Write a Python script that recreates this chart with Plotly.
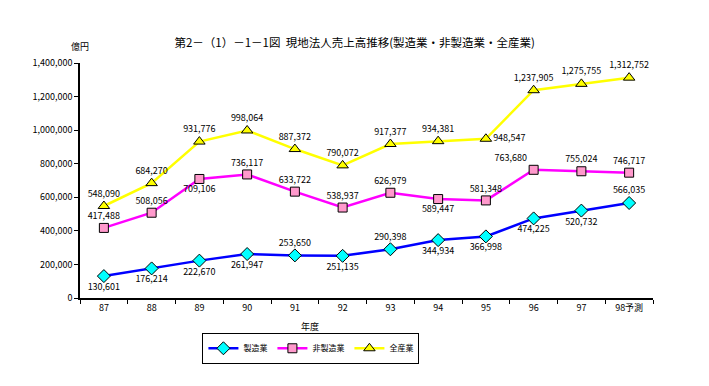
import plotly.graph_objects as go

years = ["87", "88", "89", "90", "91", "92", "93", "94", "95", "96", "97", "98予測"]
manufacturing = [130601, 176214, 222670, 261947, 253650, 251135, 290398, 344934, 366998, 474225, 520732, 566035]
non_manufacturing = [417488, 508056, 709106, 736117, 633722, 538937, 626979, 589447, 581348, 763680, 755024, 746717]
all_industries = [548090, 684270, 931776, 998064, 887372, 790072, 917377, 934381, 948547, 1237905, 1275755, 1312752]
y_ticks = [0, 200000, 400000, 600000, 800000, 1000000, 1200000, 1400000]

FONT = "Noto Sans CJK JP, Arial, sans-serif"

def fmt(v):
    return f"{v:,}"

pos_m = ["bottom center"] * 12
pos_m[4] = "top center"
pos_m[6] = "top center"
pos_m[11] = "top center"

pos_n = ["top center"] * 12
pos_n[2] = "bottom center"
pos_n[7] = "bottom center"
pos_n[9] = "top left"

pos_a = ["top center"] * 12
pos_a[8] = "middle right"

fig = go.Figure()
fig.add_trace(go.Scatter(
    x=years, y=manufacturing, name="製造業", mode="lines+markers+text",
    line=dict(color="#0000FF", width=2.5),
    marker=dict(symbol="diamond", size=10, color="#00FFFF", line=dict(color="black", width=1)),
    text=[fmt(v) for v in manufacturing], textposition=pos_m,
    textfont=dict(size=9, color="black", family=FONT), cliponaxis=False,
))
fig.add_trace(go.Scatter(
    x=years, y=non_manufacturing, name="非製造業", mode="lines+markers+text",
    line=dict(color="#FF00FF", width=2.5),
    marker=dict(symbol="square", size=9, color="#FF99CC", line=dict(color="black", width=1)),
    text=[fmt(v) for v in non_manufacturing], textposition=pos_n,
    textfont=dict(size=9, color="black", family=FONT), cliponaxis=False,
))
fig.add_trace(go.Scatter(
    x=years, y=all_industries, name="全産業", mode="lines+markers+text",
    line=dict(color="#FFFF00", width=2.5),
    marker=dict(symbol="triangle-up", size=10, color="#FFFF00", line=dict(color="black", width=1)),
    text=[fmt(v) for v in all_industries], textposition=pos_a,
    textfont=dict(size=9, color="black", family=FONT), cliponaxis=False,
))

fig.update_layout(
    width=709, height=386,
    margin=dict(l=72, r=64, t=55, b=96, autoexpand=False),
    paper_bgcolor="white", plot_bgcolor="white",
    font=dict(family=FONT, size=9, color="black"),
    title=dict(text="第2－（1）－1－1図  現地法人売上高推移(製造業・非製造業・全産業)",
               x=0.489, xanchor="center", y=0.91, yanchor="middle",
               font=dict(size=11.5, color="black", family=FONT)),
    showlegend=True,
    legend=dict(orientation="h", x=0.403, xanchor="center", y=-0.148, yanchor="top",
                bordercolor="black", borderwidth=1, font=dict(size=8, family=FONT),
                itemwidth=30, tracegroupgap=0),
    xaxis=dict(type="category", range=[-0.5, 11.5], showline=True, linecolor="black", linewidth=1.5,
               ticks="outside", tickson="boundaries", ticklen=4, tickcolor="black",
               showgrid=False, zeroline=False, automargin=False,
               tickfont=dict(size=9)),
    yaxis=dict(range=[0, 1400000], tickvals=y_ticks, tickformat=",d",
               showline=True, linecolor="black", linewidth=1.5,
               ticks="outside", ticklen=4, tickcolor="black", automargin=False,
               showgrid=False, zeroline=False, tickfont=dict(size=9)),
    annotations=[
        dict(text="億円", x=0, xref="paper", xanchor="center", y=1.07, yref="paper",
             yanchor="middle", showarrow=False, font=dict(size=9, family=FONT)),
        dict(text="年度", x=0.401, xref="paper", xanchor="center", y=-0.123, yref="paper",
             yanchor="middle", showarrow=False, font=dict(size=9, family=FONT)),
    ],
)

fig.write_html("out.html")
